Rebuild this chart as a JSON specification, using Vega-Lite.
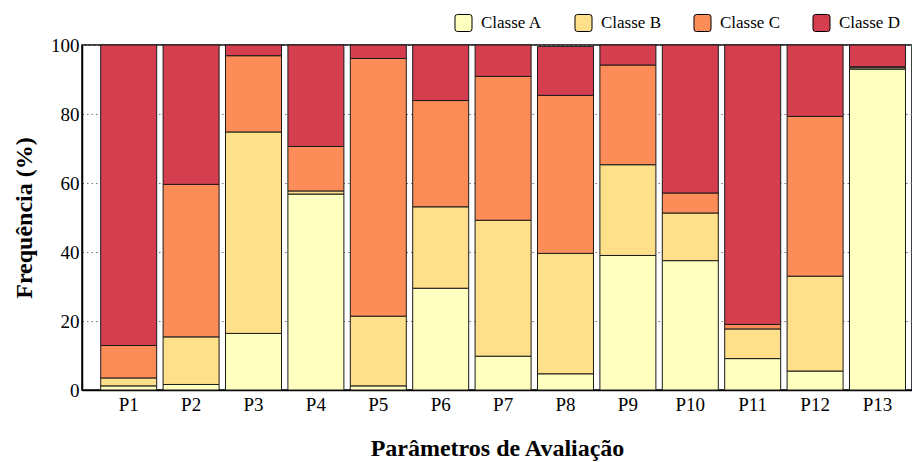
{
  "$schema": "https://vega.github.io/schema/vega-lite/v6.json",
  "autosize": {"type": "none"},
  "width": 830,
  "height": 345,
  "padding": {"left": 82, "top": 45, "right": 0, "bottom": 72},
  "background": "white",
  "config": {
    "font": "Liberation Serif",
    "view": {"stroke": "black", "strokeWidth": 1.5}
  },
  "data": {
    "values": [
      {"p": "P1", "classe": "Classe A", "v": 1.2},
      {"p": "P1", "classe": "Classe B", "v": 2.3},
      {"p": "P1", "classe": "Classe C", "v": 9.4},
      {"p": "P1", "classe": "Classe D", "v": 87.1},
      {"p": "P2", "classe": "Classe A", "v": 1.6},
      {"p": "P2", "classe": "Classe B", "v": 13.8},
      {"p": "P2", "classe": "Classe C", "v": 44.2},
      {"p": "P2", "classe": "Classe D", "v": 40.4},
      {"p": "P3", "classe": "Classe A", "v": 16.4},
      {"p": "P3", "classe": "Classe B", "v": 58.4},
      {"p": "P3", "classe": "Classe C", "v": 22.1},
      {"p": "P3", "classe": "Classe D", "v": 3.1},
      {"p": "P4", "classe": "Classe A", "v": 56.8},
      {"p": "P4", "classe": "Classe B", "v": 0.9},
      {"p": "P4", "classe": "Classe C", "v": 12.9},
      {"p": "P4", "classe": "Classe D", "v": 29.4},
      {"p": "P5", "classe": "Classe A", "v": 1.2},
      {"p": "P5", "classe": "Classe B", "v": 20.2},
      {"p": "P5", "classe": "Classe C", "v": 74.7},
      {"p": "P5", "classe": "Classe D", "v": 3.9},
      {"p": "P6", "classe": "Classe A", "v": 29.5},
      {"p": "P6", "classe": "Classe B", "v": 23.6},
      {"p": "P6", "classe": "Classe C", "v": 30.8},
      {"p": "P6", "classe": "Classe D", "v": 16.1},
      {"p": "P7", "classe": "Classe A", "v": 9.8},
      {"p": "P7", "classe": "Classe B", "v": 39.4},
      {"p": "P7", "classe": "Classe C", "v": 41.7},
      {"p": "P7", "classe": "Classe D", "v": 9.1},
      {"p": "P8", "classe": "Classe A", "v": 4.7},
      {"p": "P8", "classe": "Classe B", "v": 34.9},
      {"p": "P8", "classe": "Classe C", "v": 45.8},
      {"p": "P8", "classe": "Classe D", "v": 14.2},
      {"p": "P9", "classe": "Classe A", "v": 39.0},
      {"p": "P9", "classe": "Classe B", "v": 26.3},
      {"p": "P9", "classe": "Classe C", "v": 28.9},
      {"p": "P9", "classe": "Classe D", "v": 5.8},
      {"p": "P10", "classe": "Classe A", "v": 37.5},
      {"p": "P10", "classe": "Classe B", "v": 13.8},
      {"p": "P10", "classe": "Classe C", "v": 5.8},
      {"p": "P10", "classe": "Classe D", "v": 42.9},
      {"p": "P11", "classe": "Classe A", "v": 9.1},
      {"p": "P11", "classe": "Classe B", "v": 8.6},
      {"p": "P11", "classe": "Classe C", "v": 1.3},
      {"p": "P11", "classe": "Classe D", "v": 81.0},
      {"p": "P12", "classe": "Classe A", "v": 5.5},
      {"p": "P12", "classe": "Classe B", "v": 27.5},
      {"p": "P12", "classe": "Classe C", "v": 46.3},
      {"p": "P12", "classe": "Classe D", "v": 20.7},
      {"p": "P13", "classe": "Classe A", "v": 93.0},
      {"p": "P13", "classe": "Classe B", "v": 0.4},
      {"p": "P13", "classe": "Classe C", "v": 0.3},
      {"p": "P13", "classe": "Classe D", "v": 6.3}
    ]
  },
  "mark": {"type": "bar", "stroke": "#1a1a1a", "strokeWidth": 1},
  "encoding": {
    "x": {
      "field": "p",
      "type": "nominal",
      "sort": null,
      "scale": {"paddingInner": 0.1026, "paddingOuter": 0.202, "align": 0.742},
      "axis": {
        "title": "Parâmetros de Avaliação",
        "titleFont": "Liberation Serif",
        "titleFontSize": 24,
        "titleFontWeight": "bold",
        "titleColor": "black",
        "titlePadding": 22,
        "labelAngle": 0,
        "labelFont": "Liberation Serif",
        "labelFontSize": 19,
        "labelColor": "black",
        "labelPadding": 5,
        "ticks": false,
        "domainColor": "black",
        "domainWidth": 1.5
      }
    },
    "y": {
      "field": "v",
      "type": "quantitative",
      "stack": "zero",
      "scale": {"domain": [0, 100], "nice": false},
      "axis": {
        "title": "Frequência (%)",
        "titleFont": "Liberation Serif",
        "titleFontSize": 24,
        "titleFontWeight": "bold",
        "titleColor": "black",
        "titlePadding": 14,
        "values": [0, 20, 40, 60, 80, 100],
        "labelFont": "Liberation Serif",
        "labelFontSize": 19,
        "labelColor": "black",
        "labelPadding": 3,
        "ticks": false,
        "grid": true,
        "gridColor": "#777",
        "gridDash": [1.5, 3],
        "gridWidth": 1,
        "domainColor": "black",
        "domainWidth": 1.5
      }
    },
    "color": {
      "field": "classe",
      "type": "nominal",
      "scale": {
        "domain": ["Classe A", "Classe B", "Classe C", "Classe D"],
        "range": ["#ffffbf", "#fee08b", "#fc8d59", "#d53e4f"]
      },
      "legend": {
        "title": null,
        "orient": "none",
        "legendX": 372,
        "legendY": -32,
        "direction": "horizontal",
        "columns": 4,
        "columnPadding": 30,
        "symbolType": "M -1 -0.7 Q -1 -1 -0.7 -1 L 0.7 -1 Q 1 -1 1 -0.7 L 1 0.7 Q 1 1 0.7 1 L -0.7 1 Q -1 1 -1 0.7 Z",
        "symbolSize": 290,
        "symbolStrokeColor": "black",
        "symbolStrokeWidth": 1,
        "symbolOffset": 0,
        "labelOffset": 8,
        "labelFont": "Liberation Serif",
        "labelFontSize": 17,
        "labelColor": "black",
        "padding": 0
      }
    },
    "order": {"field": "classe", "sort": "ascending"}
  }
}
